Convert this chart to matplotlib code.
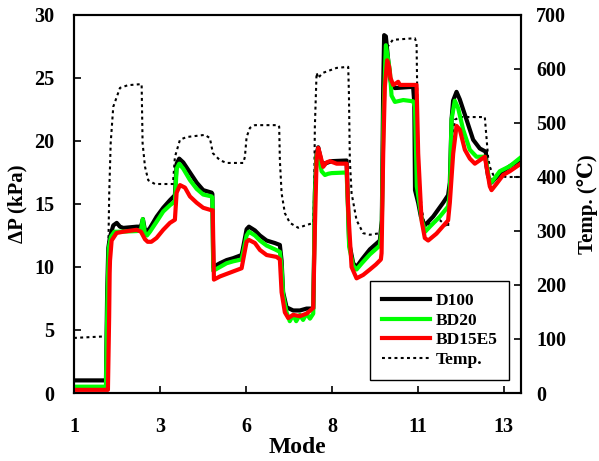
import matplotlib
matplotlib.use("Agg")
import matplotlib.pyplot as plt

plt.rcParams['font.family'] = ['Liberation Serif', 'DejaVu Serif', 'DejaVu Sans']
plt.rcParams['font.weight'] = 'bold'

# x axis: tick positions are equally spaced, labelled by mode number
mode_ticks = [0, 1, 2, 3, 4, 5]
mode_labels = ['1', '3', '6', '8', '11', '13']

d100_x = [0.000, 0.372, 0.386, 0.399, 0.419, 0.457, 0.497, 0.535, 0.573, 0.729, 0.779, 0.802, 0.826,
          0.849, 0.884, 0.962, 1.038, 1.116, 1.174, 1.194, 1.224, 1.271, 1.349, 1.427, 1.503, 1.601,
          1.610, 1.620, 1.698, 1.776, 1.852, 1.950, 1.969, 2.008, 2.035, 2.105, 2.163, 2.241, 2.337,
          2.395, 2.415, 2.433, 2.473, 2.550, 2.628, 2.706, 2.783, 2.791, 2.802, 2.822, 2.841, 2.880,
          2.919, 2.957, 2.997, 3.171, 3.183, 3.201, 3.248, 3.287, 3.349, 3.442, 3.558, 3.581, 3.597,
          3.608, 3.628, 3.655, 3.674, 3.694, 3.733, 3.945, 3.959, 3.967, 4.004, 4.035, 4.081, 4.178,
          4.294, 4.352, 4.372, 4.392, 4.410, 4.450, 4.488, 4.566, 4.643, 4.721, 4.791, 4.799, 4.817,
          4.857, 4.953, 5.070, 5.198]
d100_y = [1.0, 1.0, 8.0, 11.5, 12.4, 13.3, 13.5, 13.2, 13.1, 13.2, 13.2, 13.8, 12.9,
          12.8, 13.1, 14.0, 14.7, 15.3, 15.7, 18.2, 18.6, 18.3, 17.5, 16.7, 16.1, 15.9,
          15.8, 10.0, 10.3, 10.55, 10.7, 10.95, 11.6, 13.0, 13.2, 12.9, 12.5, 12.1, 11.9,
          11.75, 10.5, 8.0, 6.8, 6.55, 6.55, 6.7, 6.7, 10.0, 15.9, 19.0, 19.5, 18.3,
          18.2, 18.3, 18.4, 18.45, 15.9, 11.9, 10.3, 10.0, 10.6, 11.4, 12.1, 13.7, 24.3,
          28.4, 28.3, 26.4, 25.1, 24.4, 24.2, 24.3, 23.0, 16.1, 15.1, 14.0, 13.3, 14.0,
          15.1, 15.7, 16.7, 21.7, 23.2, 23.9, 23.3, 21.7, 20.1, 19.4, 19.15, 18.0, 17.2,
          16.7, 17.4, 18.0, 18.5]

bd20_x = [0.000, 0.372, 0.391, 0.405, 0.430, 0.470, 0.535, 0.729, 0.779, 0.800, 0.826, 0.849, 0.884,
          0.962, 1.038, 1.116, 1.174, 1.194, 1.224, 1.271, 1.349, 1.427, 1.503, 1.601, 1.610, 1.620,
          1.698, 1.776, 1.852, 1.950, 1.969, 2.008, 2.035, 2.105, 2.163, 2.241, 2.337, 2.395, 2.415,
          2.433, 2.473, 2.510, 2.550, 2.585, 2.628, 2.665, 2.706, 2.745, 2.783, 2.791, 2.802, 2.822,
          2.841, 2.880, 2.919, 2.957, 2.997, 3.171, 3.183, 3.201, 3.248, 3.287, 3.349, 3.442, 3.558,
          3.580, 3.600, 3.628, 3.674, 3.694, 3.733, 3.830, 3.945, 3.967, 3.988, 4.047, 4.085, 4.140,
          4.256, 4.352, 4.372, 4.392, 4.430, 4.469, 4.527, 4.605, 4.682, 4.779, 4.799, 4.837, 4.876,
          4.953, 5.070, 5.198]
bd20_y = [0.5, 0.5, 8.0, 11.5, 12.4, 12.8, 12.8, 12.85, 12.9, 13.8, 12.6, 12.5, 12.8,
          13.6, 14.4, 14.9, 15.2, 17.8, 18.2, 17.8, 16.9, 16.2, 15.75, 15.6, 15.5, 9.7,
          10.0, 10.3, 10.45, 10.6, 11.2, 12.5, 12.8, 12.5, 12.1, 11.7, 11.4, 11.2, 10.0,
          7.8, 6.4, 5.7, 6.2, 5.7, 6.2, 5.8, 6.3, 5.9, 6.3, 10.0, 15.5, 18.8,
          19.2, 17.6, 17.3, 17.4, 17.45, 17.5, 15.5, 11.6, 10.1, 9.8, 10.3, 11.0, 11.7,
          13.0, 22.0, 27.6, 25.6, 23.6, 23.1, 23.25, 23.15, 22.7, 16.4, 13.7, 12.8, 13.2,
          14.0, 14.8, 15.9, 21.7, 23.2, 22.6, 20.9, 19.3, 18.75, 18.75, 18.2, 16.6, 16.9,
          17.6, 18.0, 18.7]

bd15e5_x = [0.000, 0.395, 0.409, 0.415, 0.419, 0.438, 0.496, 0.573, 0.729, 0.779, 0.826, 0.857, 0.900,
            0.960, 1.038, 1.116, 1.174, 1.194, 1.233, 1.291, 1.349, 1.427, 1.503, 1.601, 1.614, 1.628,
            1.698, 1.853, 1.950, 1.969, 2.008, 2.035, 2.105, 2.163, 2.241, 2.357, 2.395, 2.415, 2.453,
            2.492, 2.550, 2.628, 2.706, 2.783, 2.802, 2.822, 2.841, 2.860, 2.899, 2.938, 2.977, 3.016,
            3.055, 3.171, 3.190, 3.229, 3.287, 3.364, 3.442, 3.512, 3.570, 3.578, 3.597, 3.616, 3.643,
            3.666, 3.682, 3.713, 3.752, 3.771, 3.791, 3.985, 4.004, 4.043, 4.081, 4.120, 4.217, 4.352,
            4.372, 4.411, 4.450, 4.488, 4.547, 4.605, 4.663, 4.779, 4.799, 4.837, 4.857, 4.915, 4.992,
            5.070, 5.198]
bd15e5_y = [0.25, 0.25, 6.0, 9.5, 10.5, 12.1, 12.7, 12.8, 12.95, 12.8, 12.2, 12.0, 12.0,
            12.3, 12.95, 13.5, 13.75, 15.9, 16.5, 16.3, 15.6, 15.1, 14.7, 14.5, 14.5, 9.0,
            9.25, 9.65, 9.9, 10.6, 12.0, 12.15, 11.9, 11.35, 10.95, 10.8, 10.6, 8.0, 6.4,
            5.95, 6.2, 6.1, 6.3, 6.75, 13.0, 18.5, 19.45, 19.0, 17.95, 18.3, 18.4, 18.3,
            18.2, 18.2, 14.5, 10.0, 9.1, 9.37, 9.8, 10.2, 10.6, 11.1, 19.0, 24.3, 26.4,
            25.9, 25.0, 24.45, 24.6, 24.7, 24.45, 24.45, 19.0, 13.7, 12.3, 12.1, 12.65, 13.7,
            15.1, 19.0, 21.2, 20.9, 19.3, 18.6, 18.2, 18.75, 17.96, 16.4, 16.1, 16.6, 17.3,
            17.6, 18.2]

temp_x = [0.000, 0.384, 0.395, 0.410, 0.427, 0.457, 0.535, 0.628, 0.787, 0.798, 0.826, 0.864, 0.942,
          1.151, 1.174, 1.233, 1.310, 1.523, 1.581, 1.616, 1.698, 1.776, 1.969, 1.988, 2.008, 2.047,
          2.105, 2.376, 2.387, 2.395, 2.415, 2.453, 2.512, 2.608, 2.706, 2.783, 2.794, 2.802, 2.822,
          2.843, 2.860, 2.899, 3.055, 3.190, 3.198, 3.209, 3.229, 3.287, 3.364, 3.442, 3.558, 3.578,
          3.593, 3.616, 3.636, 3.657, 3.709, 3.965, 3.985, 3.992, 4.004, 4.043, 4.081, 4.159, 4.256,
          4.352, 4.372, 4.392, 4.430, 4.488, 4.779, 4.791, 4.817, 4.837, 4.876, 5.031, 5.198]
temp_y = [102, 105, 222, 370, 463, 530, 565, 570, 572, 463, 419, 394, 387,
          387, 437, 469, 474, 478, 472, 444, 431, 426, 426, 437, 474, 491,
          496, 496, 493, 431, 370, 333, 315, 306, 311, 315, 370, 493, 593,
          583, 587, 593, 602, 604, 556, 431, 370, 320, 296, 293, 296, 320,
          506, 641, 644, 643, 654, 657, 648, 567, 413, 344, 307, 315, 320,
          307, 381, 444, 506, 511, 511, 487, 437, 419, 404, 400, 400]

fig = plt.figure(figsize=(5.99, 4.61), dpi=100)
ax = fig.add_axes([0.1235, 0.1475, 0.7463, 0.82])
ax2 = ax.twinx()

lw = 3.0
l1, = ax.plot(d100_x, d100_y, color='black', lw=lw, solid_joinstyle='round', label='D100')
l2, = ax.plot(bd20_x, bd20_y, color='#00ff00', lw=lw, solid_joinstyle='round', label='BD20')
l3, = ax.plot(bd15e5_x, bd15e5_y, color='#ff0000', lw=lw, solid_joinstyle='round', label='BD15E5')
l4, = ax2.plot(temp_x, temp_y, color='black', lw=1.5, linestyle=(0, (1.4, 1.6)), label='Temp.')

ax.set_xlim(0, 5.2)
ax.set_ylim(0, 30)
ax2.set_ylim(0, 700)
ax.set_xticks(mode_ticks)
ax.set_xticklabels(mode_labels)
ax.set_yticks([0, 5, 10, 15, 20, 25, 30])
ax2.set_yticks([0, 100, 200, 300, 400, 500, 600, 700])

ax.tick_params(axis='x', direction='in', length=5, width=1.2, pad=17, labelsize=14.5)
ax.tick_params(axis='y', direction='in', length=5, width=1.2, pad=14, labelsize=14.5)
ax2.tick_params(axis='y', direction='in', length=5, width=1.2, pad=11, labelsize=14.5)
for a in (ax, ax2):
    for s in a.spines.values():
        s.set_linewidth(1.5)
    for lab in a.get_xticklabels() + a.get_yticklabels():
        lab.set_fontweight('bold')

ax.set_xlabel('Mode', fontsize=17, fontweight='bold', labelpad=0)
ax.set_ylabel('ΔP (kPa)', fontsize=15, fontweight='bold')
ax2.set_ylabel('Temp. (℃)', fontsize=15, fontweight='bold', rotation=90)
ax.yaxis.set_label_coords(-0.103, 0.5)
ax2.yaxis.set_label_coords(1.125, 0.5)

leg = ax.legend(handles=[l1, l2, l3, l4], loc='lower right', bbox_to_anchor=(0.974, 0.034),
                borderaxespad=0, frameon=True, fancybox=False, edgecolor='black', framealpha=1,
                handlelength=2.75, handletextpad=0.3, labelspacing=0.2, borderpad=0.7,
                prop={'weight': 'bold', 'size': 12.5})
leg.get_frame().set_linewidth(1.0)
ax.set_zorder(2)
ax.patch.set_visible(False)

fig.savefig('out.png', dpi=100)
